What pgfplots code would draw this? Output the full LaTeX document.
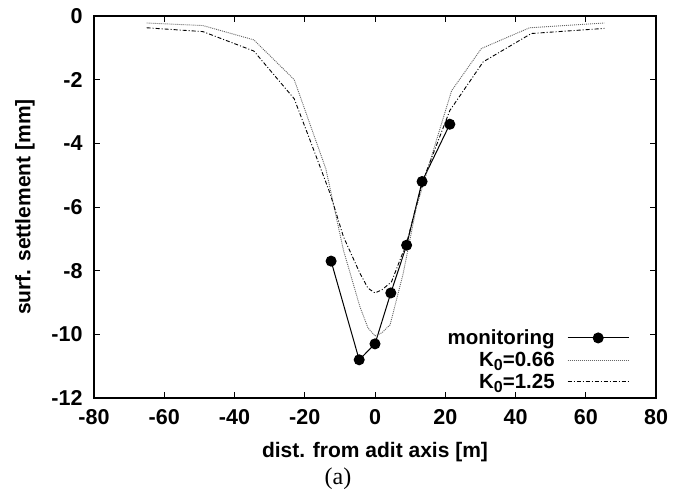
\documentclass[border=0pt]{standalone}
\usepackage{fontspec}
\setmainfont{Liberation Sans}
\newfontfamily\timesfont{Liberation Serif}
\usepackage{pgfplots}
\pgfplotsset{compat=1.18}
\newcommand{\sub}[1]{\raisebox{-4.5bp}{\fontsize{16bp}{16bp}\selectfont #1}}
\begin{document}
\begin{tikzpicture}
\useasboundingbox (-94bp,-98bp) rectangle (593bp,398bp);
\begin{axis}[
  at={(0,0)}, anchor=south west,
  scale only axis, width=562bp, height=382bp,
  xmin=-80, xmax=80, ymin=-12, ymax=0,
  xtick={-80,-60,...,80}, ytick={-12,-10,...,0},
  tick align=inside, major tick length=6bp,
  axis line style={line width=1.2bp},
  every tick/.style={line width=0.8bp, black},
  /pgf/number format/assume math mode=true,
  tick label style={font=\fontsize{21.5bp}{24bp}\selectfont\bfseries},
  xticklabel style={yshift=-8bp},
  yticklabel style={xshift=-8bp},
  label style={font=\fontsize{21bp}{24bp}\selectfont\bfseries},
  xlabel={dist. from adit axis [m]},
  ylabel={surf. settlement [mm]},
  xlabel style={at={(0.5,0)}, anchor=center, yshift=-54bp},
  ylabel style={at={(0,0.5)}, anchor=center, yshift=69bp},
  legend plot pos=right,
  legend cell align=right,
  legend style={draw=none, fill=none, at={(0.958,0.012)}, anchor=south east,
    font=\fontsize{20.5bp}{22bp}\selectfont\bfseries, row sep=3bp, column sep=11bp,
    nodes={inner sep=1.5bp}},
  legend image code/.code={\draw[mark repeat=2,mark phase=2,#1] plot coordinates {(0bp,0bp) (30.5bp,0bp) (61bp,0bp)};},
]
\addplot[black, line width=1bp, mark=*, mark size=5bp, mark options={solid}] coordinates {
(-12.5,-7.7) (-4.5,-10.8) (0,-10.3) (4.5,-8.7) (9,-7.2) (13.4,-5.2) (21.3,-3.4)
};
\addlegendentry{monitoring}
\addplot[black!60, line width=0.9bp, dash pattern=on 1bp off 1bp] coordinates {
(-65,-0.22) (-49,-0.30) (-34.5,-0.75) (-23,-2.0) (-14,-4.8) (-9,-7.35) (-4.3,-9.13) (-2,-9.8) (0,-10.05) (2,-9.95) (4.3,-9.7) (8,-8.1) (11.8,-6.0) (17.5,-3.9) (21.8,-2.35) (30.3,-1.02) (44,-0.37) (65.3,-0.22)
};
\addlegendentry{K\sub{0}=0.66}
\addplot[black, line width=0.9bp, dash pattern=on 4bp off 2bp on 1bp off 2bp] coordinates {
(-65,-0.37) (-49,-0.49) (-34.5,-1.1) (-23,-2.6) (-18.5,-3.9) (-12.8,-5.57) (-9,-6.93) (-4.3,-8.08) (-2,-8.55) (0,-8.7) (2,-8.6) (4.7,-8.35) (9,-7.13) (13.7,-5.15) (21.3,-2.97) (30.8,-1.44) (44.5,-0.55) (65.3,-0.39)
};
\addlegendentry{K\sub{0}=1.25}
\end{axis}
\node[font=\timesfont\fontsize{24bp}{26bp}\selectfont] at (244bp,-81bp) {(a)};
\end{tikzpicture}
\end{document}
